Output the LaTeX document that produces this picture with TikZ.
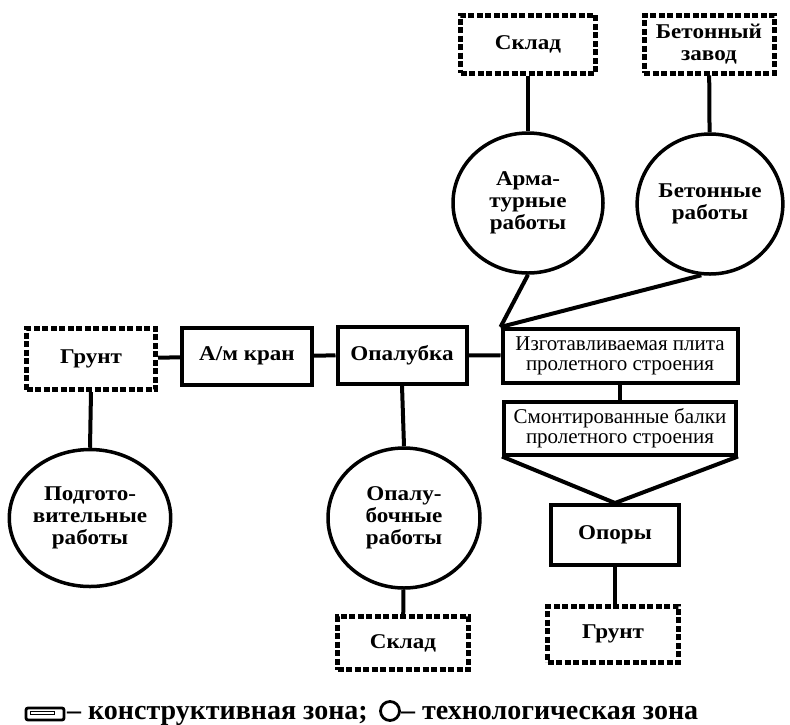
\documentclass[tikz,border=0pt]{standalone}
\usepackage{fontspec}
\setmainfont{Liberation Serif}
\newfontfamily\widefont{Liberation Serif}[FakeStretch=1.1]
\usetikzlibrary{shapes.geometric,positioning}
\tikzset{
  cbox/.style={draw, line width=4pt, rectangle, inner sep=0pt, align=center, font=\widefont\bfseries\fontsize{21}{21}\selectfont},
  wbox/.style={draw, line width=4pt, rectangle, inner sep=0pt, align=center, font=\fontsize{21}{19.5}\selectfont},
  dbox/.style={draw, line width=5pt, dash pattern=on 6pt off 2.5pt, rectangle, inner sep=0pt, align=center, font=\widefont\bfseries\fontsize{21}{21.5}\selectfont},
  tcirc/.style={draw, ellipse, line width=3.5pt, inner sep=0pt, minimum width=150pt, minimum height=140pt, align=center, font=\widefont\bfseries\fontsize{21}{22}\selectfont},
  conn/.style={line width=4pt},
  legtext/.style={inner sep=0pt, font=\bfseries\fontsize{28}{28}\selectfont},
}
\begin{document}
\begin{tikzpicture}[x=1pt,y=-1pt]
\useasboundingbox (0,0) rectangle (790,724);
% top dashed boxes
\node[dbox, minimum width=135pt, minimum height=58pt] (sk1) at (528,44) {Склад};
\node[dbox, minimum width=130pt, minimum height=58pt] (bz) at (709,44) {Бетонный\\завод};
% top circles
\node[tcirc] (arm) at (528,203) {Арма-\\турные\\работы};
\node[tcirc, minimum width=144pt] (bet) at (710,204) {Бетонные\\работы};
% main row
\node[dbox, minimum width=129pt, minimum height=61pt] (gr1) at (91,359) {Грунт};
\node[cbox, minimum width=130pt, minimum height=57pt] (kran) at (247,356) {А/м кран};
\node[cbox, minimum width=129pt, minimum height=57pt] (opa) at (402,355) {Опалубка};
\node[wbox, minimum width=235pt, minimum height=54pt] (izg) at (620,356) {Изготавливаемая плита\\пролетного строения};
\node[wbox, minimum width=232pt, minimum height=53pt] (smo) at (620,428) {Смонтированные балки\\пролетного строения};
\node[cbox, minimum width=128pt, minimum height=60pt] (opr) at (615,535) {Опоры};
\node[dbox, minimum width=131pt, minimum height=56pt] (gr2) at (613,634) {Грунт};
% lower circles
\node[tcirc, minimum height=137pt] (pod) at (90,518) {Подгото-\\вительные\\работы};
\node[tcirc, minimum width=152pt] (opb) at (404,518) {Опалу-\\бочные\\работы};
\node[dbox, minimum width=131pt, minimum height=53pt] (sk2) at (403,643) {Склад};
% connectors
\draw[conn] (sk1) -- (arm);
\draw[conn] (bz) -- (bet);
\draw[conn] (arm.south) -- (izg.north west);
\draw[conn] (bet.-97) -- (izg.north west);
\draw[conn] (gr1) -- (kran);
\draw[conn] (kran) -- (opa);
\draw[conn] (opa) -- (izg);
\draw[conn] (izg) -- (smo);
\draw[conn] (smo.south west) -- (opr.north) -- (smo.south east);
\draw[conn] (opr.south) -- (opr.south |- gr2.north);
\draw[conn] (gr1.south) -- (pod.north);
\draw[conn] (opa.south) -- (opb.north);
\draw[conn] (opb) -- (sk2);
% legend
\node[draw, line width=2.8pt, rounded corners=2pt, minimum width=38pt, minimum height=12pt, inner sep=0pt] (lrect) at (45,714) {};
\node[draw, line width=1pt, minimum width=24pt, minimum height=3pt, inner sep=0pt] (lrin) at (42,713) {};
\node[legtext, anchor=base west] (lt1) at (67,719) {– конструктивная зона;};
\node[draw, circle, line width=2.8pt, minimum size=19pt, inner sep=0pt] (lcirc) at (390,711) {};
\node[legtext, anchor=base west] (lt2) at (401,719) {– технологическая зона};
\end{tikzpicture}
\end{document}
